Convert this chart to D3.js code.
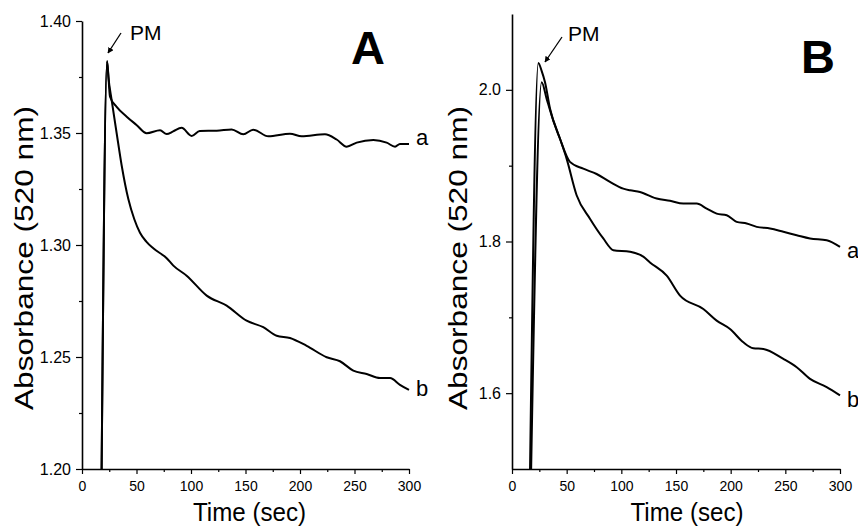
<!DOCTYPE html>
<html>
<head>
<meta charset="utf-8">
<script src="https://cdn.jsdelivr.net/npm/d3@7"></script>
<style>
  body { margin: 0; background: #fff; }
  text { font-family: "Liberation Sans", Arial, sans-serif; fill: #000; }
</style>
</head>
<body>
<div class="canvas"></div>
<script>
// panel A data (time in sec, absorbance at 520 nm)
const timeA_a = [18, 23, 25.7, 31.8, 41, 50, 59.3, 71.6, 77.7, 83.6, 91.4, 100.6, 108, 123.6, 137.3, 148, 157, 171, 190.8, 201.5, 222.9, 233.6, 242.8, 252, 267.3, 279.5, 287.2, 291.7, 300];
const absA_a = [1.20, 1.382, 1.3662, 1.3617, 1.3573, 1.3536, 1.3499, 1.3512, 1.3495, 1.3507, 1.3523, 1.3487, 1.3509, 1.351, 1.3516, 1.3494, 1.3515, 1.3485, 1.3497, 1.3485, 1.3494, 1.3471, 1.3439, 1.3457, 1.3469, 1.3457, 1.3439, 1.3451, 1.3451];
const timeA_b = [18, 23, 24.2, 27.2, 31.8, 36.4, 42.5, 48, 53.2, 59, 65.4, 77.7, 83.8, 96, 114.4, 132.7, 151, 166.3, 178.6, 190.8, 206.1, 224.5, 236.7, 248.9, 261.2, 273.4, 282.6, 291.7, 300];
const absA_b = [1.20, 1.382, 1.3751, 1.3647, 1.3499, 1.3355, 1.3205, 1.3115, 1.3055, 1.3015, 1.2985, 1.2941, 1.2908, 1.2863, 1.2774, 1.2729, 1.2662, 1.2633, 1.2595, 1.2585, 1.255, 1.2499, 1.2481, 1.2439, 1.2424, 1.2406, 1.2406, 1.2376, 1.2353];

// panel B data
const timeB_a = [16.5, 24.1, 27.1, 30.2, 34.8, 43.9, 53, 65.2, 77.4, 89.6, 101.8, 107.9, 117, 132.3, 144.5, 156.7, 168.9, 178.1, 187.2, 196.4, 205.5, 214.7, 223.8, 236, 248.2, 260.4, 272.6, 287.8, 300];
const absB_a = [1.50, 2.0355, 2.025, 2.010, 1.975, 1.9355, 1.905, 1.896, 1.889, 1.8786, 1.8697, 1.8675, 1.8654, 1.8566, 1.8536, 1.85, 1.85, 1.8434, 1.8368, 1.8346, 1.8259, 1.8237, 1.8193, 1.8171, 1.8128, 1.8083, 1.804, 1.8017, 1.793];
const timeB_b = [17.5, 27.1, 31.7, 36.3, 43.9, 50, 59.1, 71.3, 83.5, 92.7, 107.9, 120.1, 126.2, 141.5, 153.7, 175, 187.2, 199.4, 211.6, 220.7, 229.9, 248.2, 260.4, 272.6, 287.8, 300];
const absB_b = [1.50, 2.010, 1.988, 1.966, 1.9355, 1.909, 1.861, 1.830, 1.804, 1.7886, 1.7864, 1.780, 1.7724, 1.7549, 1.7286, 1.711, 1.6957, 1.6846, 1.6671, 1.6592, 1.6583, 1.6451, 1.6342, 1.6188, 1.6079, 1.597];

// ticks
const xMajor = [0, 50, 100, 150, 200, 250, 300];
const xMinor = [25, 75, 125, 175, 225, 275];
const yMajorA = [1.20, 1.25, 1.30, 1.35, 1.40];
const yMinorA = [1.225, 1.275, 1.325, 1.375];
const yMajorB = [1.6, 1.8, 2.0];
const yMinorB = [1.7, 1.9];

const svg = d3.select('.canvas')
  .append('svg')
    .attr('width', 858)
    .attr('height', 528);

const zip = (xs, ys) => xs.map((x, i) => [x, ys[i]]);

function panel(cfg) {
  const x = d3.scaleLinear().domain([0, 300]).range([cfg.left, cfg.right]);
  const y = d3.scaleLinear().domain(cfg.yDomain).range([cfg.bottom, cfg.top]);

  // x axis
  svg.append('g')
    .attr('transform', `translate(0, ${cfg.bottom})`)
    .call(d3.axisBottom(x).tickValues(xMinor).tickSize(3).tickSizeOuter(0).tickFormat(''))
    .call(g => g.select('.domain').remove());
  svg.append('g')
    .attr('transform', `translate(0, ${cfg.bottom})`)
    .call(d3.axisBottom(x).tickValues(xMajor).tickSize(5).tickSizeOuter(0).tickPadding(7))
    .call(g => g.selectAll('text').style('font-size', '14px'));

  // y axis
  svg.append('g')
    .attr('transform', `translate(${cfg.left}, 0)`)
    .call(d3.axisLeft(y).tickValues(cfg.yMinor).tickSize(3).tickSizeOuter(0).tickFormat(''))
    .call(g => g.select('.domain').remove());
  svg.append('g')
    .attr('transform', `translate(${cfg.left}, 0)`)
    .call(d3.axisLeft(y).tickValues(cfg.yMajor).tickSize(6).tickSizeOuter(0).tickPadding(5)
      .tickFormat(d3.format(cfg.fmt)))
    .call(g => g.selectAll('text').style('font-size', '16px'));

  svg.selectAll('.domain').attr('stroke-width', 1.6);
  svg.selectAll('.tick line').attr('stroke-width', 1.2);

  const line = d3.line()
    .x(d => x(d[0]))
    .y(d => y(d[1]))
    .curve(d3.curveMonotoneX);

  cfg.series.forEach(s => {
    svg.append('path')
      .datum(s)
      .attr('fill', 'none')
      .attr('stroke', '#000')
      .attr('stroke-width', 2)
      .attr('stroke-linejoin', 'round')
      .attr('d', line);
  });

  // axis titles
  svg.append('text')
    .attr('x', (cfg.left + cfg.right) / 2 + cfg.xTitleShift)
    .attr('y', 521)
    .attr('text-anchor', 'middle')
    .attr('font-size', 26)
    .attr('textLength', 113)
    .attr('lengthAdjust', 'spacingAndGlyphs')
    .text('Time (sec)');

  svg.append('text')
    .attr('transform', `translate(${cfg.yTitleX}, 258) rotate(-90)`)
    .attr('text-anchor', 'middle')
    .attr('font-size', 25)
    .attr('textLength', 304)
    .attr('lengthAdjust', 'spacingAndGlyphs')
    .text('Absorbance (520 nm)');

  // panel letter
  svg.append('text')
    .attr('x', cfg.letter[0]).attr('y', cfg.letter[1])
    .attr('font-size', 47).attr('font-weight', 'bold')
    .text(cfg.name);

  // PM annotation with arrow
  svg.append('text')
    .attr('x', cfg.pm[0]).attr('y', cfg.pm[1])
    .attr('font-size', 21)
    .text('PM');
  svg.append('line')
    .attr('x1', cfg.arrow[0]).attr('y1', cfg.arrow[1])
    .attr('x2', cfg.arrow[2]).attr('y2', cfg.arrow[3])
    .attr('stroke', '#000').attr('stroke-width', 1.3)
    .attr('marker-end', 'url(#head)');

  // curve labels
  cfg.labels.forEach(l => {
    svg.append('text')
      .attr('x', x(300) + 7).attr('y', l[1])
      .attr('font-size', 22)
      .text(l[0]);
  });
}

svg.append('defs').append('marker')
  .attr('id', 'head')
  .attr('viewBox', '0 0 10 10')
  .attr('refX', 9).attr('refY', 5)
  .attr('markerWidth', 6).attr('markerHeight', 6)
  .attr('markerUnits', 'userSpaceOnUse')
  .attr('orient', 'auto')
  .append('path')
    .attr('d', 'M0,0 L10,5 L0,10 z')
    .attr('fill', '#000');

panel({
  name: 'A', left: 82, right: 409, top: 21, bottom: 469,
  yDomain: [1.2, 1.4], yMajor: yMajorA, yMinor: yMinorA, fmt: '.2f',
  series: [zip(timeA_a, absA_a), zip(timeA_b, absA_b)],
  xTitleShift: 4, yTitleX: 33,
  letter: [351, 64], pm: [130, 40], arrow: [121, 33, 108, 53],
  labels: [['a', 145], ['b', 396]]
});

panel({
  name: 'B', left: 512, right: 840, top: 14, bottom: 469,
  yDomain: [1.5, 2.1], yMajor: yMajorB, yMinor: yMinorB, fmt: '.1f',
  series: [zip(timeB_a, absB_a), zip(timeB_b, absB_b)],
  xTitleShift: 11, yTitleX: 467,
  letter: [801, 73], pm: [568, 41], arrow: [562, 37, 545, 62],
  labels: [['a', 258], ['b', 407]]
});
</script>
</body>
</html>
